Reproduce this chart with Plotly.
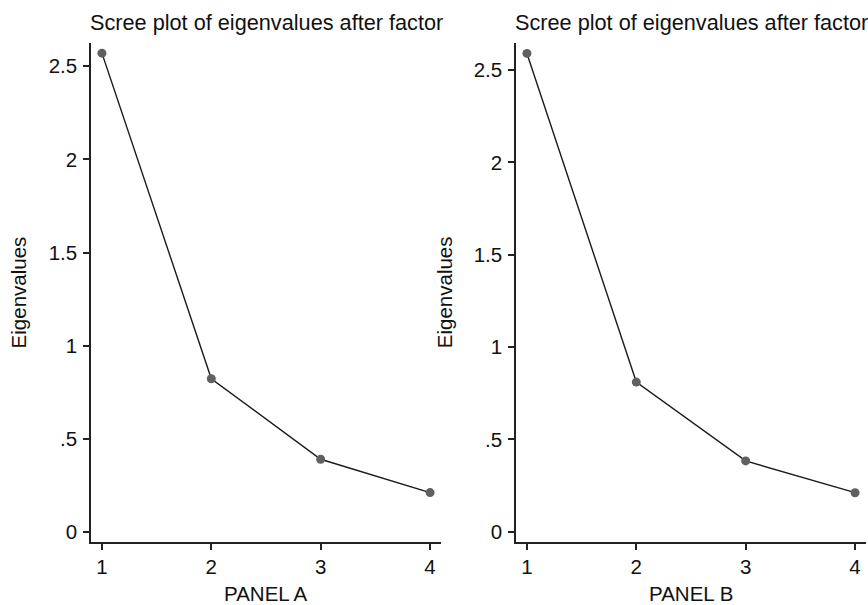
import plotly.graph_objects as go

components = [1, 2, 3, 4]
eig_a = [2.57, 0.823, 0.391, 0.212]
eig_b = [2.59, 0.81, 0.383, 0.211]
panel_titles = ["PANEL A", "PANEL B"]
chart_title = "Scree plot of eigenvalues after factor"
y_title = "Eigenvalues"
y_tickvals = [0, 0.5, 1, 1.5, 2, 2.5]
y_ticktext = ["0", ".5", "1", "1.5", "2", "2.5"]
x_tickvals = [1, 2, 3, 4]

W, H = 868, 605
FONT = "Liberation Sans, Arial, Helvetica, sans-serif"

fig = go.Figure()
for i, vals in enumerate([eig_a, eig_b]):
    fig.add_trace(go.Scatter(
        x=components, y=vals, mode="lines+markers",
        line=dict(color="#1a1a1a", width=1.4),
        marker=dict(color="#606060", size=9),
        xaxis="x" if i == 0 else "x2", yaxis="y" if i == 0 else "y2",
        showlegend=False, cliponaxis=False,
    ))

def px_x(v):
    return v / W

def px_y(v):
    return 1 - v / H

xdoms = [[px_x(91), px_x(441)], [px_x(516), px_x(866)]]
ydom = [px_y(542), px_y(42.7)]
yranges = [[-0.053, 2.626], [-0.056, 2.648]]

axis_common = dict(
    showgrid=False, zeroline=False, showline=True, linecolor="#222222", linewidth=1.5,
    ticks="outside", ticklen=6, tickwidth=1.5, tickcolor="#222222",
    tickfont=dict(family=FONT, size=20.5, color="#111111"),
)

layout = dict(
    width=W, height=H, margin=dict(l=0, r=0, t=0, b=0),
    paper_bgcolor="white", plot_bgcolor="white",
    font=dict(family=FONT, color="#111111"),
)
for i in range(2):
    sx = "" if i == 0 else "2"
    layout["xaxis" + sx] = dict(
        axis_common, domain=xdoms[i], range=[0.9, 4.1],
        tickvals=x_tickvals, ticktext=[str(v) for v in x_tickvals],
        anchor="y" + sx,
    )
    layout["yaxis" + sx] = dict(
        axis_common, domain=ydom, range=yranges[i],
        tickvals=y_tickvals, ticktext=y_ticktext,
        anchor="x" + sx, ticklabelstandoff=2,
    )
fig.update_layout(**layout)

annotations = []
for i in range(2):
    cx = (xdoms[i][0] + xdoms[i][1]) / 2
    annotations.append(dict(
        text=chart_title, x=cx, y=px_y(23), xref="paper", yref="paper",
        xanchor="center", yanchor="middle", showarrow=False,
        font=dict(family=FONT, size=21.7, color="#111111"),
    ))
    annotations.append(dict(
        text=panel_titles[i], x=cx, y=px_y(593), xref="paper", yref="paper",
        xanchor="center", yanchor="middle", showarrow=False,
        font=dict(family=FONT, size=20.5, color="#111111"),
    ))
    annotations.append(dict(
        text=y_title, x=px_x([18.4, 444.2][i]), y=px_y(292), xref="paper", yref="paper",
        xanchor="center", yanchor="middle", showarrow=False, textangle=-90,
        font=dict(family=FONT, size=20.5, color="#111111"),
    ))
fig.update_layout(annotations=annotations)

fig.write_html(
    "out.html",
    config={"displayModeBar": False},
    post_script="document.body.style.margin='0';document.body.style.overflow='hidden';",
)
